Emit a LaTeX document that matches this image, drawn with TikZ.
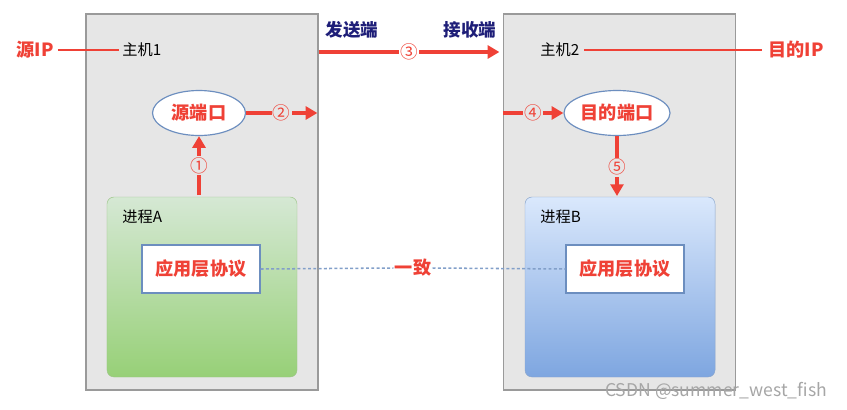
\documentclass[tikz,border=0pt]{standalone}
\usepackage{fontspec}
\setmainfont{Noto Sans CJK SC}
\usetikzlibrary{shapes.geometric,arrows.meta,positioning}
\definecolor{hostgray}{HTML}{E6E6E6}
\definecolor{hostline}{HTML}{9A9A9A}
\definecolor{portred}{HTML}{EF4136}
\definecolor{sidenavy}{HTML}{1E1E78}
\definecolor{edgeblue}{HTML}{6C8EBF}
\definecolor{edgegreen}{HTML}{9CC587}
\definecolor{greentop}{HTML}{D5E8D4}
\definecolor{greenbot}{HTML}{97D077}
\definecolor{bluetop}{HTML}{DAE8FC}
\definecolor{bluebot}{HTML}{7EA6E0}

\begin{document}
\begin{tikzpicture}[
  x=0.03cm, y=-0.03cm,
  every node/.style={font=\fontsize{13}{15}\selectfont, inner sep=1pt},
  host/.style={draw=hostline, fill=hostgray, line width=1pt,
               minimum width=6.96cm, minimum height=11.28cm},
  procA/.style={draw=edgegreen, rounded corners=6pt, top color=greentop,
                bottom color=greenbot, minimum width=5.7cm, minimum height=5.4cm},
  procB/.style={draw=edgeblue!80, rounded corners=6pt, top color=bluetop,
                bottom color=bluebot, minimum width=5.7cm, minimum height=5.4cm},
  app/.style={draw=edgeblue, fill=white, line width=1pt, minimum width=3.54cm,
              minimum height=1.44cm, text=portred, font=\fontsize{15.5}{17}\selectfont\bfseries},
  port/.style={ellipse, draw=edgeblue, fill=white, line width=1pt, minimum width=2.79cm,
               minimum height=1.35cm, text=portred, font=\fontsize{15.5}{17}\selectfont\bfseries},
  tag/.style={text=portred, font=\fontsize{15.5}{17}\selectfont\bfseries},
  side/.style={text=sidenavy, font=\fontsize{15}{17}\selectfont\bfseries},
  num/.style={text=portred, font=\fontsize{15}{17}\selectfont, fill=hostgray, inner sep=1pt},
  arr/.style={-{Triangle[length=10pt,width=11pt]}, portred, line width=3.2pt},
  link/.style={portred, line width=2.2pt},
  same/.style={edgeblue!85, line width=1.3pt, dash pattern=on 2.5pt off 2pt}
]
\useasboundingbox (0,0) rectangle (847,409);

%% hosts
\node[host] (host1) at (202,202) {};
\node[host] (host2) at (619.5,202) {};
\node[anchor=west] (h1) at (121,50) {主机1};
\node[anchor=west] (h2) at (539,50) {主机2};

%% processes
\node[procA] (pa) at (202,287) {};
\node[procB] (pb) at (620,287) {};
\node[anchor=west] (pal) at (121,217) {进程A};
\node[anchor=west] (pbl) at (539,217) {进程B};
\node[app] (appA) at (201,269) {应用层协议};
\node[app] (appB) at (625,269) {应用层协议};

%% ports
\node[port] (src) at (199,113) {源端口};
\node[port] (dst) at (617,113) {目的端口};

%% ip labels
\node[tag] (sip) at (35,50) {源IP};
\node[tag] (dip) at (796,50) {目的IP};
\draw[link] (sip.east) ++(3,0) -- ([xshift=-2pt]h1.west);
\draw[link] ([xshift=3pt]h2.east) -- ([xshift=-4pt]dip.west);

%% sender / receiver
\node[side] (snd) at (352,30) {发送端};
\node[side] (rcv) at (470,30) {接收端};
\coordinate (out1) at (host1.east |- 0,52);
\coordinate (in2) at ([xshift=-3pt]host2.west |- 0,52);
\coordinate (out2) at ([xshift=-1pt]host1.east |- src.east);
\coordinate (in4) at (host2.west |- dst.west);

%% flow
\draw[arr] (199,195) -- (src.south) node[num, midway] {①};
\draw[arr] (src.east) -- (out2) node[num, midway] {②};
\draw[arr, line width=2.6pt] (out1) -- (in2) node[num, fill=white, midway] {③};
\draw[arr] (in4) -- (dst.west) node[num, midway] {④};
\draw[arr] (dst.south) -- (617,196) node[num, pos=0.52] {⑤};

%% agreement
\node[tag] (agree) at (413,268) {一致};
\draw[same] (appA.east) -- (agree.west);
\draw[same] (agree.east) -- (appB.west);

%% watermark
\node[text=gray!70, font=\fontsize{15}{17}\selectfont] (wm) at (716,391) {CSDN @summer\_west\_fish};
\end{tikzpicture}
\end{document}
